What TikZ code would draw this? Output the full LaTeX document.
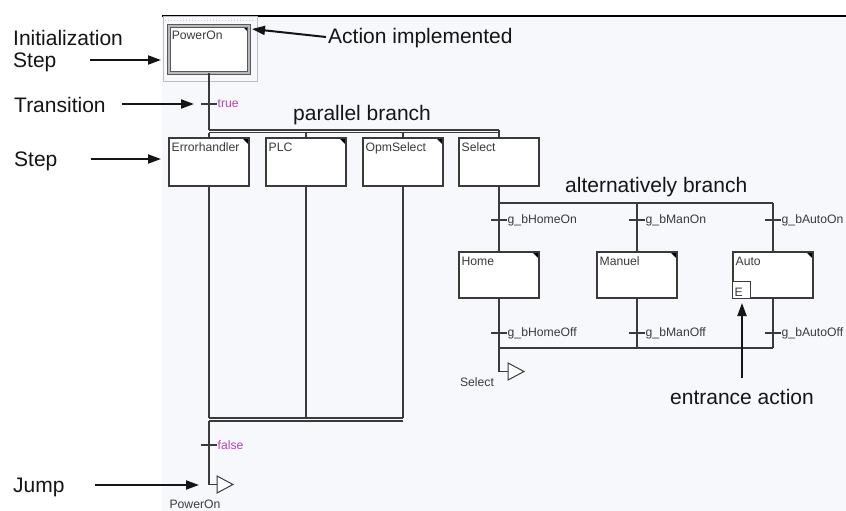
\documentclass[tikz,border=0pt]{standalone}
\usepackage{fontspec}
\setmainfont{Liberation Sans}
\usetikzlibrary{calc,arrows.meta}
\definecolor{ln}{HTML}{3A3A3A}
\definecolor{bgc}{HTML}{F6F8FC}
\definecolor{cond}{HTML}{C040C0}
\definecolor{note}{HTML}{151515}
\begin{document}
\begin{tikzpicture}[x=1pt,y=-1pt,
  big/.style={font=\fontsize{21}{24}\selectfont, text=note, inner sep=0pt},
  small/.style={font=\fontsize{12.2}{14}\selectfont, text=ln, inner sep=0pt},
  wire/.style={draw=ln, line width=1.1pt},
  stepbox/.style={draw=ln, line width=1.1pt, fill=white, minimum width=80pt,
    minimum height=48pt, inner sep=0pt},
  actbox/.style={stepbox, path picture={\fill[black]
    (path picture bounding box.north east) -- ++(-7pt,0pt) -- ++(7pt,-7pt) -- cycle;}},
  jumptri/.style={draw=ln, line width=1pt, fill=white},
  callout/.style={draw=note, line width=2pt, -{Triangle[length=13pt,width=9pt]}},
]
% canvas
\useasboundingbox (0,0) rectangle (846,511);
\fill[white] (0,0) rectangle (846,511);
\fill[bgc] (162,17) rectangle (846,511);
\draw[black, line width=2pt] (162,16) -- (846,16);

% selection frame around the initial step
\draw[gray!50, line width=1pt] (163,17) rectangle (257,81.5);
\draw[gray!45, line width=1pt, dotted] (165,21) -- (255,21);

% steps
\node[actbox, minimum height=47pt, draw=ln!85, double=gray!55, double distance=1.3pt,
      line width=0.9pt] (pwr) at (209,49.5) {};
\node[actbox] (err) at (209,162) {};
\node[actbox] (plc) at (306,162) {};
\node[actbox] (opm) at (403,162) {};
\node[stepbox] (sel) at (499,162) {};
\node[actbox, minimum height=46pt] (home) at (499,275) {};
\node[actbox, minimum height=46pt] (man) at (637,275) {};
\node[actbox, minimum height=46pt] (auto) at (773,275) {};
\node[draw=ln, line width=0.9pt, fill=white, anchor=south west, minimum width=18pt,
      minimum height=17pt, inner sep=0pt] (ent) at (auto.south west) {};

% step names
\foreach \n/\t in {pwr/PowerOn, err/Errorhandler, plc/PLC, opm/OpmSelect, sel/Select,
                   home/Home, man/Manuel, auto/Auto}
  \node[small, anchor=base west] (\n-name) at ($(\n.north west)+(3pt,-14pt)$) {\t};
\node[small, anchor=base west] (ent-name) at ($(ent.south west)+(2pt,2pt)$) {E};

% main sequence and parallel branch
\coordinate (t0) at (209,104);
\coordinate (pbL) at (209,130);   \coordinate (pbR) at (499,130);
\coordinate (pbL2) at (209,132.5); \coordinate (pbR2) at (499,132.5);
\draw[wire] (pwr.south) -- (pbL);
\draw[wire] (pbL) -- (pbR);
\draw[wire] (pbL2) -- (pbR2);
\draw[wire] (pbR) -- (pbR2);
\foreach \n in {err,plc,opm,sel} \draw[wire] (pbL2 -| \n) -- (\n.north);

\coordinate (bbL) at (209,418);   \coordinate (bbR) at (403,418);
\coordinate (bbL2) at (209,421);  \coordinate (bbR2) at (403,421);
\foreach \n in {err,plc,opm} \draw[wire] (\n.south) -- (bbL -| \n);
\draw[wire] (bbL) -- (bbR);
\draw[wire] (bbL2) -- (bbR2);

% transitions of the main sequence
\draw[wire] ($(t0)+(-8pt,0pt)$) -- ($(t0)+(8pt,0pt)$);
\node[small, text=cond, anchor=west] (t0-l) at ($(t0)+(8.5pt,0pt)$) {true};
\coordinate (t9) at (209,445);
\draw[wire] ($(t9)+(-8pt,0pt)$) -- ($(t9)+(8pt,0pt)$);
\node[small, text=cond, anchor=west] (t9-l) at ($(t9)+(8.5pt,0pt)$) {false};

% jump back to the initial step
\coordinate (jc) at (209,484.5);
\coordinate (jmp) at (217,484.5);
\draw[wire] (bbL2) -- (jc) -- (jmp);
\draw[jumptri] (jmp) -- ++(0,-8.5) -- ++(16,8.5) -- ++(-16,8.5) -- cycle;
\node[small, anchor=base] (jmp-l) at (195,508) {PowerOn};

% alternative branch
\coordinate (abTL) at (499,203); \coordinate (abTR) at (773,203);
\coordinate (abBL) at (499,348); \coordinate (abBR) at (773,348);
\draw[wire] (sel.south) -- (abTL);
\draw[wire] (abTL) -- (abTR);
\draw[wire] (abBL) -- (abBR);
\foreach \n in {home,man,auto} {
  \draw[wire] (abTL -| \n) -- (\n.north);
  \draw[wire] (\n.south) -- (abBL -| \n);
}
\foreach \n/\on/\off in {home/g\_bHomeOn/g\_bHomeOff, man/g\_bManOn/g\_bManOff,
                         auto/g\_bAutoOn/g\_bAutoOff} {
  \coordinate (\n-ton) at ($(abTL -| \n)+(0pt,-17pt)$);
  \coordinate (\n-toff) at ($(abBL -| \n)+(0pt,15pt)$);
  \draw[wire] ($(\n-ton)+(-8pt,0pt)$) -- ($(\n-ton)+(8pt,0pt)$);
  \draw[wire] ($(\n-toff)+(-8pt,0pt)$) -- ($(\n-toff)+(8pt,0pt)$);
  \node[small, anchor=west] (\n-ton-l) at ($(\n-ton)+(8.5pt,0pt)$) {\on};
  \node[small, anchor=west] (\n-toff-l) at ($(\n-toff)+(8.5pt,0pt)$) {\off};
}

% jump back to Select
\coordinate (sc) at (499,371.5);
\coordinate (sjmp) at (508,371.5);
\draw[wire] (abBL) -- (sc) -- (sjmp);
\draw[jumptri] (sjmp) -- ++(0,-8.5) -- ++(16,8.5) -- ++(-16,8.5) -- cycle;
\node[small, anchor=base] (sjmp-l) at (477,386) {Select};

% annotations
\node[big, anchor=base west] (n-init1) at (13,46) {Initialization};
\node[big, anchor=base west] (n-init2) at (13,67) {Step};
\node[big, anchor=base west] (n-trans) at (14,112) {Transition};
\node[big, anchor=base west] (n-step) at (14,166) {Step};
\node[big, anchor=base west] (n-jump) at (13,492) {Jump};
\node[big, anchor=base west] (n-act) at (328,44) {Action implemented};
\node[big, anchor=base west] (n-par) at (293,121) {parallel branch};
\node[big, anchor=base west] (n-alt) at (565,192) {alternatively branch};
\node[big, anchor=base] (n-ent) at (742,404) {entrance action};

\coordinate (a1s) at (90,60);   \coordinate (a1e) at (161,60);
\coordinate (a2s) at (122,104); \coordinate (a2e) at (194,104);
\coordinate (a3s) at (91,159);  \coordinate (a3e) at (161,159);
\coordinate (a4s) at (95,485);  \coordinate (a4e) at (199,485);
\coordinate (a5s) at (326,37);  \coordinate (a5e) at (252,29);
\coordinate (a6s) at (742,378); \coordinate (a6e) at (742,303);
\foreach \i in {1,...,6} \draw[callout] (a\i s) -- (a\i e);
\end{tikzpicture}
\end{document}
